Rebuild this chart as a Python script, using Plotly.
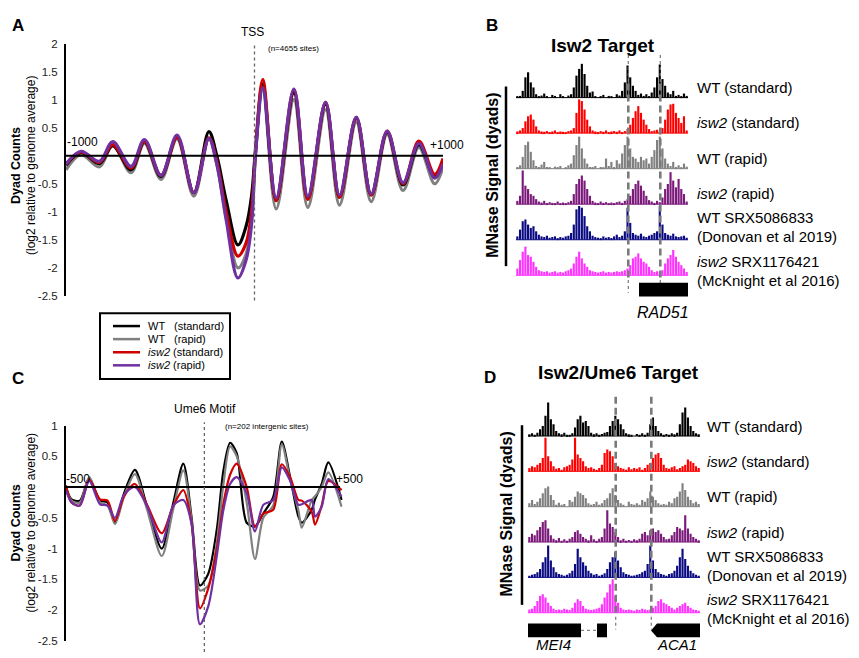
import plotly.graph_objects as go

W, H = 859, 658
FONT = "Liberation Sans, Arial, sans-serif"

# ---------------- Panel A data (TSS aligned, log2 dyad counts) ----------------
A_pos = [-1000, -920, -823, -752, -655, -584, -496, -411, -322, -242, -200, -150, -88, -44, -15, 5,
         44, 115, 209, 283, 377, 451, 540, 619, 704, 788, 872, 956, 1000]
A_wt_std = [-0.17, 0.06, -0.14, 0.18, -0.25, 0.25, -0.37, 0.33, -0.66, 0.43, 0.0, -0.8, -1.59, -1.25, -0.7, 0.1,
            1.28, -0.8, 1.12, -0.76, 0.92, -0.74, 0.67, -0.7, 0.42, -0.52, 0.2, -0.38, -0.12]
A_wt_rap = [-0.25, 0.02, -0.2, 0.18, -0.3, 0.22, -0.42, 0.3, -0.72, 0.3, -0.15, -1.1, -2.0, -1.75, -1.1, 0.0,
            1.18, -0.95, 1.0, -0.92, 0.82, -0.88, 0.6, -0.82, 0.38, -0.62, 0.15, -0.5, -0.2]
A_isw_std = [-0.15, 0.07, -0.12, 0.2, -0.22, 0.26, -0.35, 0.33, -0.66, 0.32, -0.1, -1.0, -1.79, -1.55, -0.95, 0.05,
             1.36, -0.8, 1.18, -0.78, 0.95, -0.74, 0.68, -0.7, 0.44, -0.5, 0.26, -0.33, -0.05]
A_isw_rap = [-0.15, 0.08, -0.1, 0.25, -0.19, 0.29, -0.35, 0.37, -0.66, 0.31, -0.15, -1.15, -2.18, -1.85, -1.2, 0.0,
             1.21, -0.75, 1.19, -0.72, 0.95, -0.7, 0.69, -0.68, 0.44, -0.48, 0.22, -0.4, -0.15]

# ---------------- Panel C data (Ume6 motif aligned) ----------------
C_pos = [-500, -480, -450, -416, -377, -350, -323, -290, -251, -208, -154, -112, -76, -46, -16, 14, 45, 69,
         93, 117, 153, 183, 213, 249, 280, 310, 340, 352, 388, 400, 424, 448, 496]
C_wt_std = [0.0, -0.2, -0.22, 0.14, -0.22, -0.25, -0.58, -0.1, 0.28, -0.3, -1.0, -0.25, 0.38, -0.5, -1.6, -1.41,
            -0.69, 0.27, 0.72, 0.55, -0.58, -0.64, -0.43, -0.16, 0.74, 0.16, -0.48, -0.58, -0.37, -0.2, 0.05, 0.4, -0.21]
C_wt_rap = [0.0, -0.22, -0.25, 0.16, -0.25, -0.3, -0.6, -0.15, 0.21, -0.35, -1.12, -0.35, 0.27, -0.55, -1.68, -1.6,
            -0.9, 0.05, 0.66, 0.5, -0.25, -1.17, -0.5, -0.3, 0.69, 0.12, -0.38, -0.66, -0.21, -0.15, 0.0, 0.24, -0.32]
C_isw_std = [0.03, -0.25, -0.3, 0.12, -0.2, -0.22, -0.55, -0.15, 0.05, -0.28, -0.75, -0.3, -0.05, -0.6, -1.97, -1.65,
             -1.0, -0.27, 0.2, 0.38, 0.0, -0.64, -0.43, -0.37, 0.37, 0.16, -0.21, -0.22, -0.4, -0.61, -0.3, 0.1, -0.05]
C_isw_rap = [-0.05, -0.25, -0.3, 0.1, -0.28, -0.3, -0.5, -0.12, 0.0, -0.3, -0.9, -0.3, -0.21, -0.6, -2.23, -1.94,
             -1.12, -0.37, 0.05, 0.16, -0.1, -0.72, -0.29, -0.21, 0.32, 0.1, -0.29, -0.28, -0.21, -0.48, -0.32, 0.13, -0.16]

A_ticks = [2, 1.5, 1, 0.5, -0.5, -1, -1.5, -2, -2.5]
C_ticks = [1, 0.5, -0.5, -1, -1.5, -2, -2.5]

series_names = ["WT (standard)", "WT (rapid)", "isw2 (standard)", "isw2 (rapid)"]
line_colors = {"WT (standard)": "#000000", "WT (rapid)": "#808080",
               "isw2 (standard)": "#d00000", "isw2 (rapid)": "#7030a0"}

# ---------------- Panels B / D: MNase dyad tracks (relative signal, 64 bins) ----------------
track_labels = [["WT (standard)"], ["<i>isw2</i> (standard)"], ["WT (rapid)"], ["<i>isw2</i> (rapid)"],
                ["WT SRX5086833", "(Donovan et al 2019)"], ["<i>isw2</i> SRX1176421", "(McKnight et al 2016)"]]
track_colors = ["#000000", "#ff0000", "#808080", "#7b1a7b", "#0a0a82", "#ff33ff"]

B_wt_std = [3, 5, 20, 60, 75, 45, 30, 10, 4, 6, 12, 3, 0, 8, 5, 0, 10, 4, 0, 6, 10, 30, 65, 85, 100, 70, 35, 15, 18, 4, 0, 3,
            8, 0, 5, 3, 0, 10, 6, 20, 45, 95, 60, 35, 20, 8, 12, 5, 10, 4, 15, 30, 60, 98, 55, 35, 15, 10, 20, 5, 8, 3, 12, 5]
B_isw_std = [5, 8, 15, 35, 50, 55, 40, 20, 8, 5, 4, 6, 3, 5, 8, 3, 5, 4, 3, 6, 8, 15, 60, 100, 95, 70, 40, 20, 8, 5, 3, 6,
             4, 8, 3, 5, 6, 4, 8, 3, 6, 12, 25, 45, 65, 80, 60, 40, 25, 12, 6, 8, 10, 5, 15, 40, 70, 85, 87, 60, 45, 30, 50, 8]
B_wt_rap = [5, 10, 35, 70, 80, 50, 25, 8, 5, 12, 20, 5, 3, 0, 6, 3, 8, 0, 4, 10, 15, 40, 70, 95, 60, 30, 15, 5, 3, 8, 0, 5,
            3, 30, 8, 20, 4, 25, 15, 45, 70, 95, 60, 35, 30, 20, 35, 25, 30, 15, 35, 55, 85, 95, 60, 30, 15, 8, 20, 5, 10, 4, 15, 6]
B_isw_rap = [10, 25, 100, 55, 45, 30, 25, 15, 8, 5, 10, 3, 6, 4, 3, 8, 2, 5, 3, 6, 10, 30, 60, 75, 85, 70, 45, 25, 10, 5, 3, 8,
             4, 6, 3, 5, 2, 6, 8, 4, 10, 15, 25, 45, 60, 70, 55, 40, 25, 12, 8, 4, 10, 6, 20, 45, 60, 95, 70, 50, 75, 45, 30, 8]
B_wt_srx = [10, 30, 55, 60, 45, 35, 40, 25, 15, 10, 8, 12, 6, 8, 10, 5, 8, 6, 10, 12, 20, 45, 90, 100, 95, 70, 40, 25, 12, 8, 6, 5,
            10, 6, 8, 5, 10, 15, 8, 12, 25, 95, 50, 20, 15, 12, 18, 10, 8, 12, 15, 20, 25, 100, 45, 20, 15, 12, 18, 10, 8, 10, 12, 6]
B_isw_srx = [20, 45, 70, 85, 60, 55, 40, 25, 15, 12, 10, 12, 8, 10, 12, 8, 10, 8, 12, 15, 20, 35, 55, 70, 50, 35, 25, 15, 12, 10, 8, 10,
             12, 8, 10, 8, 10, 12, 10, 12, 15, 20, 30, 50, 55, 65, 50, 40, 35, 25, 15, 10, 12, 10, 15, 35, 50, 60, 75, 55, 40, 30, 20, 10]

D_wt_std = [5, 8, 4, 10, 20, 30, 60, 100, 50, 35, 15, 8, 5, 10, 3, 4, 8, 25, 50, 60, 40, 45, 30, 10, 5, 8, 4, 6, 10, 12, 30, 45,
            60, 50, 35, 20, 8, 5, 3, 0, 6, 4, 8, 3, 10, 35, 55, 30, 15, 8, 4, 6, 3, 8, 5, 10, 35, 70, 85, 55, 30, 15, 8, 5]
D_isw_std = [10, 15, 12, 20, 25, 40, 100, 45, 30, 15, 8, 10, 5, 12, 15, 20, 35, 100, 50, 40, 30, 15, 10, 12, 8, 5, 10, 20, 55, 65, 60, 45,
             25, 15, 10, 8, 5, 12, 6, 10, 8, 12, 5, 10, 20, 25, 40, 50, 55, 40, 20, 10, 8, 12, 15, 6, 10, 15, 20, 35, 30, 25, 15, 10]
D_wt_rap = [10, 20, 8, 15, 25, 40, 55, 60, 35, 20, 5, 12, 3, 8, 0, 20, 15, 30, 45, 40, 35, 25, 10, 5, 8, 15, 3, 10, 20, 25, 40, 55,
            35, 20, 10, 5, 0, 15, 8, 3, 10, 5, 20, 15, 25, 45, 30, 20, 10, 5, 8, 3, 15, 10, 25, 30, 45, 70, 50, 30, 20, 10, 15, 8]
D_isw_rap = [15, 25, 20, 35, 45, 60, 65, 40, 20, 10, 5, 12, 3, 8, 2, 10, 15, 30, 35, 25, 15, 10, 5, 20, 8, 3, 10, 15, 40, 95, 55, 45,
             30, 15, 5, 10, 3, 6, 2, 8, 5, 10, 25, 30, 20, 35, 40, 30, 35, 25, 15, 8, 10, 20, 30, 45, 40, 35, 80, 40, 25, 15, 10, 5]
D_wt_srx = [5, 8, 10, 15, 25, 45, 60, 95, 50, 30, 15, 10, 8, 5, 8, 12, 20, 40, 85, 60, 45, 35, 20, 12, 8, 10, 5, 8, 12, 25, 45, 60,
            75, 50, 30, 15, 10, 8, 5, 6, 8, 10, 15, 20, 40, 95, 50, 25, 15, 10, 8, 5, 10, 12, 20, 35, 60, 85, 55, 35, 20, 12, 8, 5]
D_isw_srx = [10, 12, 20, 35, 50, 55, 45, 30, 20, 12, 8, 10, 8, 12, 10, 8, 15, 30, 40, 35, 20, 12, 10, 8, 10, 12, 15, 25, 45, 60, 85, 100,
             50, 30, 15, 10, 8, 10, 8, 6, 10, 8, 12, 10, 8, 10, 15, 20, 35, 40, 30, 25, 20, 15, 10, 15, 20, 25, 30, 20, 15, 10, 8, 6]

B_tracks = [B_wt_std, B_isw_std, B_wt_rap, B_isw_rap, B_wt_srx, B_isw_srx]
D_tracks = [D_wt_std, D_isw_std, D_wt_rap, D_isw_rap, D_wt_srx, D_isw_srx]


def px(x):
    return x / W


def py(y):
    return 1 - y / H


fig = go.Figure()
shapes = []
annots = []


def ann(text, x, y, size=12, bold=False, xanchor="center", yanchor="middle", angle=0, color="#000"):
    if bold:
        text = "<b>" + text + "</b>"
    annots.append(dict(text=text, x=px(x), y=py(y), xref="paper", yref="paper", showarrow=False,
                       xanchor=xanchor, yanchor=yanchor, textangle=angle,
                       font=dict(size=size, color=color, family=FONT)))


def pline(x0, y0, x1, y1, color="#000", width=2, dash="solid"):
    shapes.append(dict(type="line", xref="paper", yref="paper", x0=px(x0), y0=py(y0), x1=px(x1), y1=py(y1),
                       line=dict(color=color, width=width, dash=dash)))


# ---------------- Profile panels A and C ----------------
def profile(xa, ya, pos, data, width, smooth, xr):
    order = ["WT (rapid)", "WT (standard)", "isw2 (standard)", "isw2 (rapid)"] if xa == "x" else \
        ["WT (standard)", "WT (rapid)", "isw2 (standard)", "isw2 (rapid)"]
    for name in order:
        fig.add_trace(go.Scatter(x=pos, y=data[name], mode="lines", name=name, xaxis=xa, yaxis=ya,
                                 showlegend=False, line=dict(color=line_colors[name], width=width,
                                                             shape="spline", smoothing=smooth)))
    shapes.append(dict(type="line", xref=xa, yref=ya, x0=xr[0], x1=xr[1], y0=0, y1=0,
                       line=dict(color="#000", width=2), layer="above"))


profile("x", "y", A_pos, {"WT (standard)": A_wt_std, "WT (rapid)": A_wt_rap,
                          "isw2 (standard)": A_isw_std, "isw2 (rapid)": A_isw_rap}, 3.2, 1.0, [-1000, 1000])
profile("x2", "y2", C_pos, {"WT (standard)": C_wt_std, "WT (rapid)": C_wt_rap,
                            "isw2 (standard)": C_isw_std, "isw2 (rapid)": C_isw_rap}, 2.2, 0.8, [-500, 490])

# dotted centre lines
shapes.append(dict(type="line", xref="x", yref="paper", x0=0, x1=0, y0=py(300), y1=py(38),
                   line=dict(color="#666", width=1.3, dash="dot")))
shapes.append(dict(type="line", xref="x2", yref="paper", x0=0, x1=0, y0=py(658), y1=py(424),
                   line=dict(color="#666", width=1.3, dash="dot")))

# ---------------- Track panels B and D ----------------
def tracks(xa, ya, data, colors):
    nb = len(data[0])
    for k, (vals, col) in enumerate(zip(data, colors)):
        fig.add_trace(go.Bar(x=list(range(nb)), y=[v / 100 * 0.95 for v in vals], base=-k, xaxis=xa, yaxis=ya,
                             marker=dict(color=col, line=dict(width=0)), showlegend=False, name=f"track {k}"))
        shapes.append(dict(type="line", xref=xa, yref=ya, x0=-0.5, x1=nb - 0.5, y0=-k, y1=-k,
                           line=dict(color=col, width=1)))


tracks("x3", "y3", B_tracks, track_colors)
tracks("x4", "y4", D_tracks, track_colors)

# track labels
B_label_y = [[83], [119], [155], [191], [215, 235], [260, 280]]
D_label_y = [[428], [464], [500], [536], [561, 580], [605, 624]]
for labs, ys in zip(track_labels, B_label_y):
    for t, y in zip(labs, ys):
        ann(t, 695, y, size=15, xanchor="left")
for labs, ys in zip(track_labels, D_label_y):
    for t, y in zip(labs, ys):
        ann(t, 705, y, size=15, xanchor="left")

# dashed nucleosome guide lines
GUIDE = "#7a7a7a"
for x in [628.3, 660.3]:
    pline(x, 50, x, 79, GUIDE, 1.2, "dot")
    pline(x, 79, x, 279, GUIDE, 2.6, "7px,4px")
    pline(x, 279, x, 292, GUIDE, 1.2, "dot")
for x in [615.7, 651.3]:
    pline(x, 398, x, 622, GUIDE, 2.6, "7px,4px")
    pline(x, 622, x, 635, GUIDE, 1.2, "dot")

# side bars and side titles
pline(506, 82, 506, 265, "#000", 2.5)
pline(522, 427, 522, 610, "#000", 2.5)
ann("MNase Signal (dyads)", 493, 173, size=16, bold=True, angle=-90)
ann("MNase Signal (dyads)", 507, 518, size=16, bold=True, angle=-90)

# gene annotations
shapes.append(dict(type="rect", xref="paper", yref="paper", x0=px(639), x1=px(688), y0=py(296), y1=py(282),
                   fillcolor="#000", line=dict(width=0)))
ann("<i>RAD51</i>", 663, 312, size=16)
shapes.append(dict(type="rect", xref="paper", yref="paper", x0=px(528), x1=px(581), y0=py(643), y1=py(629),
                   fillcolor="#000", line=dict(width=0)))
pline(581, 636, 597, 636, "#888", 1.2, "dot")
shapes.append(dict(type="rect", xref="paper", yref="paper", x0=px(597), x1=px(607), y0=py(643), y1=py(629),
                   fillcolor="#000", line=dict(width=0)))
path = "M {} {} L {} {} L {} {} L {} {} L {} {} Z".format(
    px(651), py(636), px(657), py(629), px(700), py(629), px(700), py(643), px(657), py(643))
shapes.append(dict(type="path", xref="paper", yref="paper", path=path, fillcolor="#000", line=dict(width=0)))
ann("<i>MEI4</i>", 553, 650, size=15)
ann("<i>ACA1</i>", 677, 650, size=15)

# ---------------- texts for A and C ----------------
ann("A", 18, 20, size=17, bold=True)
ann("B", 492, 20, size=17, bold=True)
ann("C", 18, 379, size=17, bold=True)
ann("D", 490, 378, size=17, bold=True)
ann("Isw2 Target", 603, 40, size=19, bold=True)
ann("Isw2/Ume6 Target", 618, 373, size=19, bold=True)

ann("TSS", 253, 26, size=12)
ann("(n=4655 sites)", 293, 43, size=8)
ann("-1000", 82, 139, size=12)
ann("+1000", 447, 142, size=12)
ann("Ume6 Motif", 205, 410, size=12)
ann("(n=202 intergenic sites)", 267, 428, size=8)
ann("-500", 78, 482, size=12)
ann("+500", 349, 482, size=12)

for yc in [163, 527]:
    ann("Dyad Counts", 16, yc, size=12.5, bold=True, angle=-90)
    ann("(log2 relative to genome average)", 31, yc, size=12, angle=-90)

# legend box (drawn)
shapes.append(dict(type="rect", xref="paper", yref="paper", x0=px(100), x1=px(230), y0=py(380), y1=py(313),
                   line=dict(color="#000", width=2), fillcolor="rgba(0,0,0,0)"))
leg_rows = [(326, "WT (standard)", "WT", "(standard)"), (339.3, "WT (rapid)", "WT", "(rapid)"),
            (352.7, "isw2 (standard)", "<i>isw2</i> (standard)", None), (366, "isw2 (rapid)", "<i>isw2</i> (rapid)", None)]
for y, key, t1, t2 in leg_rows:
    pline(113, y, 140, y, line_colors[key], 2.5)
    ann(t1, 146, y, size=11, xanchor="left")
    if t2:
        ann(t2, 171.5, y, size=11, xanchor="left")

axis_common = dict(showgrid=False, zeroline=False)
fig.update_layout(
    width=W, height=H, margin=dict(l=0, r=0, t=0, b=0, pad=0),
    paper_bgcolor="white", plot_bgcolor="rgba(0,0,0,0)",
    barmode="overlay", bargap=0.2,
    font=dict(family=FONT, color="#000"),
    shapes=shapes, annotations=annots,
    xaxis=dict(domain=[px(66), px(443)], range=[-1000, 1000], visible=False, **axis_common),
    yaxis=dict(domain=[py(295.3), py(38.3)], range=[-2.5, 2], tickvals=A_ticks,
               ticktext=[f"{t:g}" for t in A_ticks], showline=True, linecolor="#000", linewidth=2,
               ticks="", ticklabelstandoff=4, tickfont=dict(size=11.5, color="#222"), anchor="x", **axis_common),
    xaxis2=dict(domain=[px(66), px(342.7)], range=[-500, 500], visible=False, anchor="y2", **axis_common),
    yaxis2=dict(domain=[py(646.7), py(427.3)], range=[-2.5, 1], tickvals=C_ticks,
                ticktext=[f"{t:g}" for t in C_ticks], showline=True, linecolor="#000", linewidth=2,
                ticks="", ticklabelstandoff=4, tickfont=dict(size=11.5, color="#222"), anchor="x2", **axis_common),
    xaxis3=dict(domain=[px(516), px(688)], range=[-0.5, 63.5], visible=False, anchor="y3", **axis_common),
    yaxis3=dict(domain=[py(280), py(50)], range=[(93.3 - 280) / 36.2, (93.3 - 50) / 36.2], visible=False,
                anchor="x3", **axis_common),
    xaxis4=dict(domain=[px(528), px(700)], range=[-0.5, 63.5], visible=False, anchor="y4", **axis_common),
    yaxis4=dict(domain=[py(625), py(395)], range=[(438 - 625) / 36, (438 - 395) / 36], visible=False,
                anchor="x4", **axis_common),
)

post = ("var d=document.getElementById('{plot_id}');"
        "d.style.position='fixed';d.style.top='0px';d.style.left='0px';"
        "document.body.style.margin='0px';document.body.style.overflow='hidden';"
        "document.body.style.height='658px';document.documentElement.style.height='658px';"
        "document.documentElement.style.overflow='hidden';")
fig.write_html("out.html", config={"displayModeBar": False, "responsive": False}, post_script=post)
